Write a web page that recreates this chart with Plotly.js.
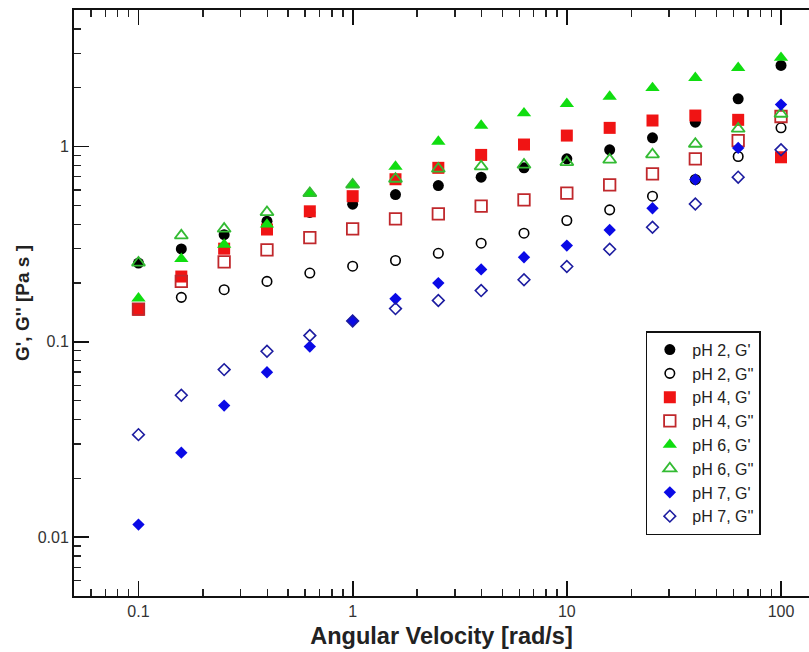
<!DOCTYPE html>
<html>
<head>
<meta charset="utf-8">
<script src="https://cdn.plot.ly/plotly-3.0.1.min.js"></script>
<style>
  html, body { margin: 0; padding: 0; background: #fff; overflow: hidden; }
  #chart { width: 809px; height: 652px; }
</style>
</head>
<body>
<div id="chart"></div>
<script>
// Angular velocity (rad/s)
const omega = [0.1, 0.1585, 0.2512, 0.3981, 0.631, 1, 1.585, 2.512, 3.981, 6.31, 10, 15.85, 25.12, 39.81, 63.1, 100];

// Moduli (Pa s)
const pH2_Gp  = [0.253, 0.299, 0.354, 0.415, 0.46, 0.507, 0.568, 0.631, 0.697, 0.778, 0.865, 0.962, 1.108, 1.332, 1.755, 2.60];
const pH2_Gpp = [0.147, 0.169, 0.185, 0.204, 0.225, 0.244, 0.261, 0.284, 0.320, 0.360, 0.418, 0.474, 0.557, 0.678, 0.889, 1.247];
const pH4_Gp  = [0.146, 0.216, 0.300, 0.376, 0.466, 0.557, 0.680, 0.778, 0.906, 1.024, 1.138, 1.246, 1.359, 1.441, 1.370, 0.881];
const pH4_Gpp = [0.147, 0.204, 0.257, 0.296, 0.342, 0.379, 0.426, 0.452, 0.495, 0.533, 0.577, 0.637, 0.725, 0.865, 1.073, 1.425];
const pH6_Gp  = [0.167, 0.266, 0.315, 0.399, 0.577, 0.637, 0.790, 1.061, 1.281, 1.482, 1.655, 1.803, 1.996, 2.249, 2.53, 2.85];
const pH6_Gpp = [0.254, 0.350, 0.379, 0.461, 0.577, 0.637, 0.683, 0.769, 0.790, 0.806, 0.831, 0.855, 0.910, 1.032, 1.232, 1.47];
const pH7_Gp  = [0.0116, 0.0271, 0.0472, 0.0699, 0.0946, 0.1283, 0.166, 0.200, 0.235, 0.271, 0.311, 0.374, 0.483, 0.678, 0.984, 1.64];
const pH7_Gpp = [0.0335, 0.0533, 0.0721, 0.0895, 0.1077, 0.128, 0.148, 0.163, 0.183, 0.208, 0.243, 0.298, 0.386, 0.508, 0.697, 0.962];

const seriesNames = ["pH 2, G'", "pH 2, G''", "pH 4, G'", "pH 4, G''", "pH 6, G'", "pH 6, G''", "pH 7, G'", "pH 7, G''"];

const xTickVals = [0.1, 1, 10, 100];
const xTickText = ["0.1", "1", "10", "100"];
const yTickVals = [0.01, 0.1, 1];
const yTickText = ["0.01", "0.1", "1"];

const FONT = 'Arial, "Liberation Sans", sans-serif';

function minorVals(lo, hi) {
  const v = [];
  for (let d = lo; d <= hi; d++) {
    for (let k = 2; k <= 9; k++) v.push(k * Math.pow(10, d));
  }
  return v;
}

const styles = [
  {symbol: 'circle', color: '#000000', size: 11, lw: 0},
  {symbol: 'circle-open', color: '#000000', size: 9.5, lw: 1.6},
  {symbol: 'square', color: '#f01414', size: 12, lw: 0},
  {symbol: 'square-open', color: '#c0282c', size: 11.5, lw: 1.8},
  {symbol: 'triangle-up', color: '#10dd10', size: 12.5, lw: 0},
  {symbol: 'triangle-up-open', color: '#33bb33', size: 11.5, lw: 1.8},
  {symbol: 'diamond', color: '#0a0ae6', size: 9.5, lw: 0},
  {symbol: 'diamond-open', color: '#1c1ca0', size: 9, lw: 1.6}
];
const ys = [pH2_Gp, pH2_Gpp, pH4_Gp, pH4_Gpp, pH6_Gp, pH6_Gpp, pH7_Gp, pH7_Gpp];

const traces = ys.map((y, i) => ({
  type: 'scatter',
  mode: 'markers',
  x: omega,
  y: y,
  name: seriesNames[i],
  marker: {
    symbol: styles[i].symbol,
    color: styles[i].color,
    size: styles[i].size,
    line: {color: styles[i].color, width: styles[i].lw}
  }
}));

const axisCommon = {
  type: 'log',
  showgrid: false,
  zeroline: false,
  showline: true,
  linecolor: '#111',
  linewidth: 2,
  ticks: 'inside',
  ticklen: 15,
  tickwidth: 1.8,
  tickcolor: '#111',
  tickmode: 'array',
  tickfont: {family: FONT, size: 16, color: '#333'}
};

const layout = {
  width: 809,
  height: 652,
  margin: {l: 74, r: 0, t: 10, b: 56, pad: 0},
  paper_bgcolor: '#fff',
  plot_bgcolor: '#fff',
  font: {family: FONT, color: '#222'},
  xaxis: Object.assign({}, axisCommon, {
    range: [Math.log10(0.05), 2.1307],
    tickvals: xTickVals,
    ticktext: xTickText,
    mirror: 'allticks',
    minor: {tickmode: 'array', tickvals: minorVals(-2, 2), ticks: 'inside', ticklen: 7, tickwidth: 1.4, tickcolor: '#222', showgrid: false},
    title: {text: '<b>Angular Velocity [rad/s]</b>', font: {family: FONT, size: 23.5, color: '#222'}, standoff: 8}
  }),
  yaxis: Object.assign({}, axisCommon, {
    range: [Math.log10(0.005), Math.log10(5)],
    tickvals: yTickVals,
    ticktext: yTickText,
    mirror: false,
    minor: {tickmode: 'array', tickvals: minorVals(-3, 0), ticks: 'inside', ticklen: 7, tickwidth: 1.4, tickcolor: '#222', showgrid: false},
    title: {text: "<b>G', G'' [Pa s ]</b>", font: {family: FONT, size: 19, color: '#222'}, standoff: 3}
  }),
  showlegend: true,
  legend: {
    x: 0.778, y: 0.452, xanchor: 'left', yanchor: 'top',
    bgcolor: '#fff', bordercolor: '#111', borderwidth: 1.5,
    font: {family: FONT, size: 16, color: '#222'},
    traceorder: 'normal',
    itemwidth: 35,
    entrywidth: 128,
    entrywidthmode: 'pixels'
  }
};

Plotly.newPlot('chart', traces, layout, {displayModeBar: false, staticPlot: true});
</script>
</body>
</html>
